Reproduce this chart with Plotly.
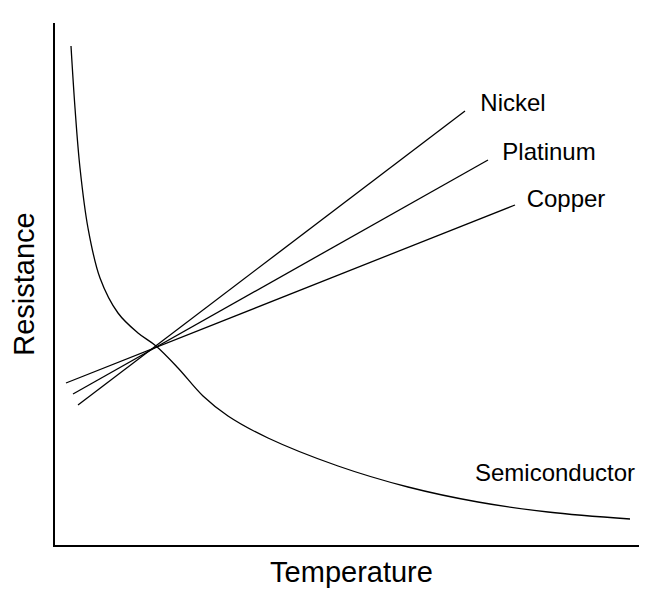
import plotly.graph_objects as go

# values (pixel-like units, y grows downward)
nickel_x = [70, 457]
nickel_y = [397, 103]
platinum_x = [65, 480]
platinum_y = [386, 152]
copper_x = [58, 507]
copper_y = [375, 197]
semi_x = [63, 67, 72, 80, 92, 110, 130, 148, 170, 195, 220, 260, 330, 400, 470, 540, 622]
semi_y = [38, 100, 160, 220, 270, 305, 325, 338, 360, 388, 408, 430, 458, 479, 494, 504, 511]

labels = ["Nickel", "Platinum", "Copper", "Semiconductor"]
label_x = [505, 541, 558, 547]
label_y = [97, 146, 193, 467]

line = dict(color="black", width=1.3)
fig = go.Figure()
fig.add_trace(go.Scatter(x=nickel_x, y=nickel_y, mode="lines", line=line))
fig.add_trace(go.Scatter(x=platinum_x, y=platinum_y, mode="lines", line=line))
fig.add_trace(go.Scatter(x=copper_x, y=copper_y, mode="lines", line=line))
fig.add_trace(go.Scatter(x=semi_x, y=semi_y, mode="lines",
                         line=dict(color="black", width=1.3, shape="spline", smoothing=1.0)))
fig.add_trace(go.Scatter(x=label_x, y=label_y, mode="text", text=labels,
                         textfont=dict(size=24, color="black", family="Liberation Sans")))

fig.update_layout(
    width=647, height=590, showlegend=False,
    plot_bgcolor="white", paper_bgcolor="white",
    margin=dict(l=47, r=7, t=15, b=53),
    font=dict(family="Liberation Sans", size=24, color="black"),
)
fig.update_xaxes(range=[47, 640], showgrid=False, zeroline=False, showticklabels=False,
                 ticks="", showline=True, linecolor="black", linewidth=2, automargin=False,
                 title=dict(text="Temperature", standoff=16))
fig.update_yaxes(range=[537, 15], showgrid=False, zeroline=False, showticklabels=False,
                 ticks="", showline=True, linecolor="black", linewidth=2, automargin=False,
                 title=dict(text="Resistance", standoff=10))

fig.write_html("out.html")
